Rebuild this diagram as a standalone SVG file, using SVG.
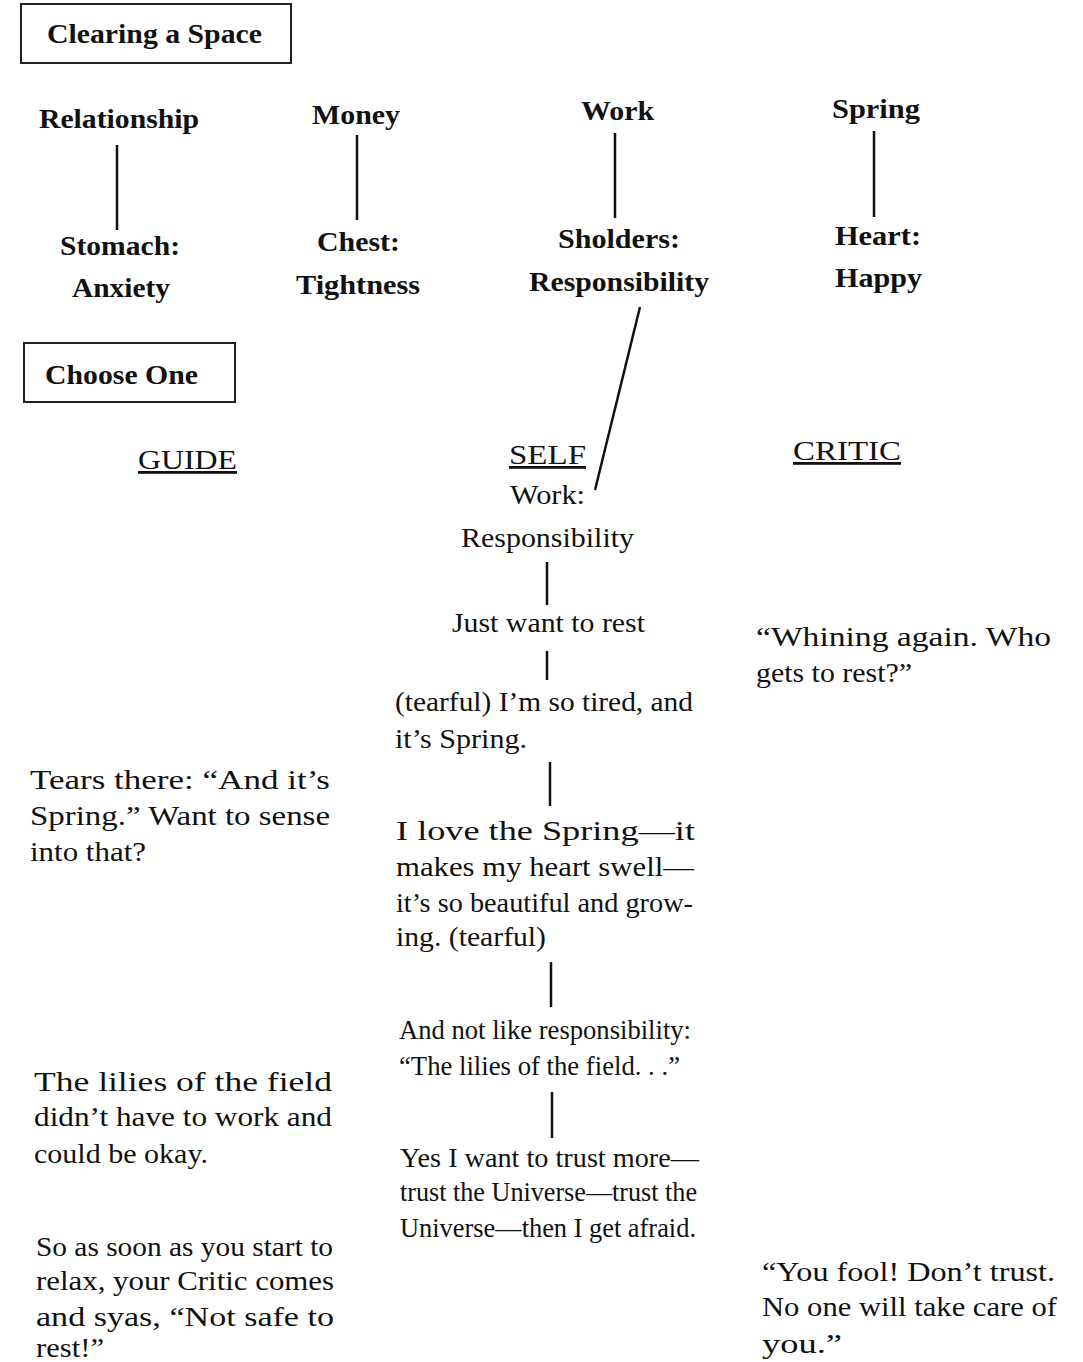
<svg xmlns="http://www.w3.org/2000/svg" width="1083" height="1362" viewBox="0 0 1083 1362">
<style>
text{font-family:"Liberation Serif","Times New Roman",serif;fill:#111;}
.b{font-weight:bold;font-size:27px;}
.h{font-size:28px;text-decoration:underline;}
.t{font-size:27px;}
.box{fill:none;stroke:#222;stroke-width:2;}
.c line{stroke:#111;stroke-width:2.5;}
</style>
<rect width="1083" height="1362" fill="#fff"/>
<g id="clearing-space"><rect class="box" x="21" y="4" width="270" height="59"/><text class="b" x="47" y="43" textLength="215" lengthAdjust="spacingAndGlyphs">Clearing a Space</text></g>
<g id="relationship"><text class="b" x="39" y="128" textLength="160" lengthAdjust="spacingAndGlyphs">Relationship</text></g>
<g id="money"><text class="b" x="312" y="124" textLength="88" lengthAdjust="spacingAndGlyphs">Money</text></g>
<g id="work"><text class="b" x="581" y="120" textLength="73" lengthAdjust="spacingAndGlyphs">Work</text></g>
<g id="spring"><text class="b" x="832" y="118" textLength="88" lengthAdjust="spacingAndGlyphs">Spring</text></g>
<g id="stomach"><text class="b" x="60" y="255" textLength="120" lengthAdjust="spacingAndGlyphs">Stomach:</text><text class="b" x="72" y="297" textLength="98" lengthAdjust="spacingAndGlyphs">Anxiety</text></g>
<g id="chest"><text class="b" x="317" y="251" textLength="83" lengthAdjust="spacingAndGlyphs">Chest:</text><text class="b" x="296" y="294" textLength="124" lengthAdjust="spacingAndGlyphs">Tightness</text></g>
<g id="sholders"><text class="b" x="558" y="248" textLength="122" lengthAdjust="spacingAndGlyphs">Sholders:</text><text class="b" x="529" y="291" textLength="180" lengthAdjust="spacingAndGlyphs">Responsibility</text></g>
<g id="heart"><text class="b" x="835" y="245" textLength="86" lengthAdjust="spacingAndGlyphs">Heart:</text><text class="b" x="835" y="287" textLength="87" lengthAdjust="spacingAndGlyphs">Happy</text></g>
<g id="choose-one"><rect class="box" x="24" y="343" width="211" height="59"/><text class="b" x="45" y="384" textLength="153" lengthAdjust="spacingAndGlyphs">Choose One</text></g>
<g id="guide-head"><text class="h" x="138" y="469" textLength="99" lengthAdjust="spacingAndGlyphs">GUIDE</text></g>
<g id="self-head"><text class="h" x="509" y="464" textLength="77" lengthAdjust="spacingAndGlyphs">SELF</text></g>
<g id="critic-head"><text class="h" x="793" y="460" textLength="108" lengthAdjust="spacingAndGlyphs">CRITIC</text></g>
<g id="self-work"><text class="t" x="510" y="504" textLength="75" lengthAdjust="spacingAndGlyphs">Work:</text><text class="t" x="461" y="547" textLength="173" lengthAdjust="spacingAndGlyphs">Responsibility</text></g>
<g id="self-rest"><text class="t" x="452" y="632" textLength="193" lengthAdjust="spacingAndGlyphs">Just want to rest</text></g>
<g id="self-tired"><text class="t" x="395" y="711" textLength="298" lengthAdjust="spacingAndGlyphs">(tearful) I’m so tired, and</text><text class="t" x="395" y="748" textLength="132" lengthAdjust="spacingAndGlyphs">it’s Spring.</text></g>
<g id="self-love"><text class="t" x="396" y="840" textLength="299" lengthAdjust="spacingAndGlyphs">I love the Spring—it</text><text class="t" x="396" y="876" textLength="298" lengthAdjust="spacingAndGlyphs">makes my heart swell—</text><text class="t" x="396" y="912" textLength="297" lengthAdjust="spacingAndGlyphs">it’s so beautiful and grow-</text><text class="t" x="396" y="946" textLength="150" lengthAdjust="spacingAndGlyphs">ing. (tearful)</text></g>
<g id="self-not-like"><text class="t" x="399" y="1039" textLength="292" lengthAdjust="spacingAndGlyphs">And not like responsibility:</text><text class="t" x="399" y="1075" textLength="281" lengthAdjust="spacingAndGlyphs">“The lilies of the field. . .”</text></g>
<g id="self-trust"><text class="t" x="400" y="1167" textLength="299" lengthAdjust="spacingAndGlyphs">Yes I want to trust more—</text><text class="t" x="400" y="1201" textLength="297" lengthAdjust="spacingAndGlyphs">trust the Universe—trust the</text><text class="t" x="400" y="1237" textLength="296" lengthAdjust="spacingAndGlyphs">Universe—then I get afraid.</text></g>
<g id="guide-tears"><text class="t" x="30" y="789" textLength="300" lengthAdjust="spacingAndGlyphs">Tears there: “And it’s</text><text class="t" x="30" y="825" textLength="300" lengthAdjust="spacingAndGlyphs">Spring.” Want to sense</text><text class="t" x="30" y="861" textLength="116" lengthAdjust="spacingAndGlyphs">into that?</text></g>
<g id="guide-lilies"><text class="t" x="34" y="1091" textLength="298" lengthAdjust="spacingAndGlyphs">The lilies of the field</text><text class="t" x="34" y="1126" textLength="298" lengthAdjust="spacingAndGlyphs">didn’t have to work and</text><text class="t" x="34" y="1163" textLength="174" lengthAdjust="spacingAndGlyphs">could be okay.</text></g>
<g id="guide-relax"><text class="t" x="36" y="1256" textLength="297" lengthAdjust="spacingAndGlyphs">So as soon as  you start to</text><text class="t" x="36" y="1290" textLength="298" lengthAdjust="spacingAndGlyphs">relax, your Critic comes</text><text class="t" x="36" y="1326" textLength="298" lengthAdjust="spacingAndGlyphs">and syas, “Not safe to</text><text class="t" x="36" y="1357" textLength="68" lengthAdjust="spacingAndGlyphs">rest!”</text></g>
<g id="critic-whining"><text class="t" x="756" y="646" textLength="295" lengthAdjust="spacingAndGlyphs">“Whining again. Who</text><text class="t" x="756" y="682" textLength="156" lengthAdjust="spacingAndGlyphs">gets to rest?”</text></g>
<g id="critic-fool"><text class="t" x="762" y="1281" textLength="293" lengthAdjust="spacingAndGlyphs">“You fool! Don’t trust.</text><text class="t" x="762" y="1316" textLength="295" lengthAdjust="spacingAndGlyphs">No one will take care of</text><text class="t" x="762" y="1353" textLength="80" lengthAdjust="spacingAndGlyphs">you.”</text></g>
<g id="connectors" class="c">
<line x1="117" y1="145" x2="117" y2="230"/>
<line x1="357" y1="135" x2="357" y2="220"/>
<line x1="615" y1="133" x2="615" y2="218"/>
<line x1="874" y1="131" x2="874" y2="217"/>
<line x1="640" y1="307" x2="595" y2="490"/>
<line x1="547" y1="562" x2="547" y2="605"/>
<line x1="547" y1="651" x2="547" y2="680"/>
<line x1="550" y1="762" x2="550" y2="806"/>
<line x1="551" y1="962" x2="551" y2="1007"/>
<line x1="552" y1="1092" x2="552" y2="1138"/>
</g>
</svg>
